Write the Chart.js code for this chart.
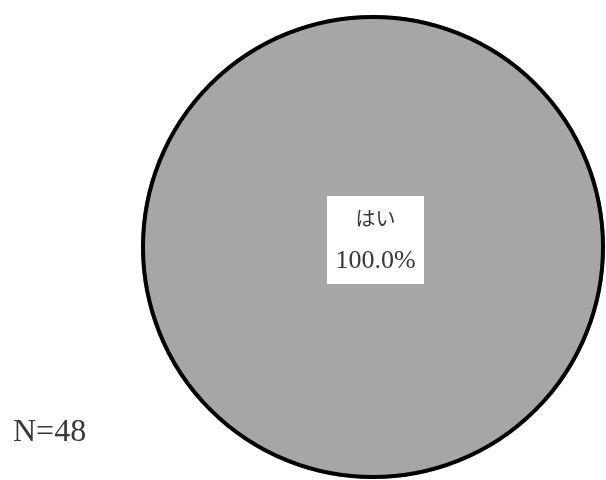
<!DOCTYPE html>
<html>
<head>
<meta charset="utf-8">
<script src="https://cdn.jsdelivr.net/npm/chart.js@4/dist/chart.umd.min.js"></script>
<style>
  html, body { margin: 0; padding: 0; background: #fff; }
  #wrap { position: relative; width: 606px; height: 480px; }
</style>
</head>
<body>
<div id="wrap"><canvas id="pieChart" width="606" height="480"></canvas></div>
<script>
var labels = ['はい'];
var counts = [48];
var colors = ['#a6a6a6'];

var total = counts.reduce(function (a, b) { return a + b; }, 0);
var fontFamily = '"Liberation Serif", "Noto Sans CJK JP", serif';

// outline around the whole pie (no radial seam when one slice is 100%)
var pieOutline = {
    id: 'pieOutline',
    afterDatasetsDraw: function (chart) {
        var ctx = chart.ctx;
        var arc = chart.getDatasetMeta(0).data[0];
        if (!arc) return;
        ctx.save();
        ctx.strokeStyle = '#000000';
        ctx.lineWidth = 4;
        ctx.beginPath();
        ctx.arc(arc.x, arc.y, arc.outerRadius - 2, 0, Math.PI * 2);
        ctx.stroke();
        ctx.restore();
    }
};

// white box with category name and percentage on each slice
var sliceLabels = {
    id: 'sliceLabels',
    afterDatasetsDraw: function (chart) {
        var ctx = chart.ctx;
        var meta = chart.getDatasetMeta(0);
        meta.data.forEach(function (arc, i) {
            var pct = (counts[i] / total * 100).toFixed(1) + '%';
            var p = arc.circumference >= Math.PI * 2 - 1e-6
                ? { x: arc.x, y: arc.y }
                : arc.tooltipPosition();
            var cx = p.x + 2.5, cy = p.y - 7;
            ctx.save();
            ctx.fillStyle = '#ffffff';
            ctx.fillRect(cx - 48.5, cy - 44, 97, 88);
            ctx.fillStyle = '#383838';
            ctx.textAlign = 'center';
            ctx.textBaseline = 'middle';
            ctx.font = '20px ' + fontFamily;
            ctx.fillText(labels[i], cx, cy - 19);
            ctx.font = '26px ' + fontFamily;
            ctx.fillText(pct, cx, cy + 21);
            ctx.restore();
        });
    }
};

// sample size note at bottom left
var sampleNote = {
    id: 'sampleNote',
    afterDraw: function (chart) {
        var ctx = chart.ctx;
        ctx.save();
        ctx.fillStyle = '#383838';
        ctx.font = '32px ' + fontFamily;
        ctx.textAlign = 'left';
        ctx.textBaseline = 'alphabetic';
        ctx.fillText('N=' + total, 13, 441);
        ctx.restore();
    }
};

var el = document.getElementById('pieChart').getContext('2d');
var pieChart = new Chart(el, {
    type: 'pie',
    data: {
        labels: labels,
        datasets: [{
            data: counts,
            backgroundColor: colors,
            borderWidth: 0
        }]
    },
    options: {
        responsive: false,
        animation: false,
        layout: {
            padding: { left: 141, right: 1, top: 15, bottom: 1 }
        },
        plugins: {
            legend: { display: false },
            tooltip: { enabled: false }
        }
    },
    plugins: [pieOutline, sliceLabels, sampleNote]
});
</script>
</body>
</html>
